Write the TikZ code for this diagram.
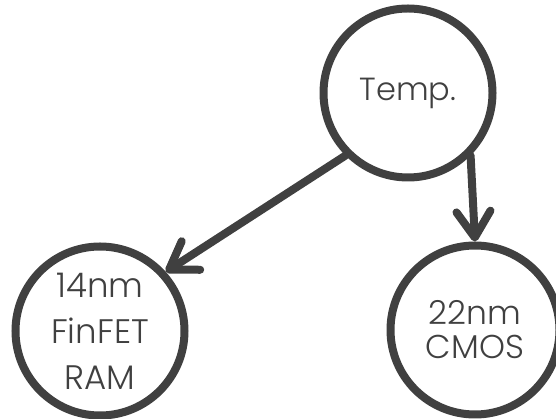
\documentclass[tikz,border=0pt]{standalone}
\usepackage{fontspec}
\setmainfont{Poppins}[UprightFont=* Light]
\usetikzlibrary{arrows.meta,shadows}
\definecolor{ink}{HTML}{404040}
\tikzset{
  state/.style={circle, draw=ink, line width=8pt, fill=white, text=ink,
    minimum size=169pt, inner sep=0pt, align=center,
    font=\fontsize{33}{34}\selectfont,
    drop shadow={opacity=0.18, shadow xshift=1pt, shadow yshift=-3pt}},
  link/.style={draw=ink, line width=8pt, line cap=round,
    -{Straight Barb[length=26pt, width=34pt, round]}}
}
\begin{document}
\begin{tikzpicture}[x=1pt, y=1pt]
  \useasboundingbox (0,0) rectangle (556,419);
  \node[state, font=\fontsize{32}{34}\selectfont] (temp) at (408,326) {Temp.};
  \node[state, font=\fontsize{34}{46}\selectfont] (ram) at (100,88) {14nm\\FinFET\\RAM};
  \node[state] (cmos) at (475,89) {22nm\\CMOS};
  \draw[link] (temp.225) -- (ram.42);
  \draw[link] (temp.-45) -- (cmos.north);
\end{tikzpicture}
\end{document}
